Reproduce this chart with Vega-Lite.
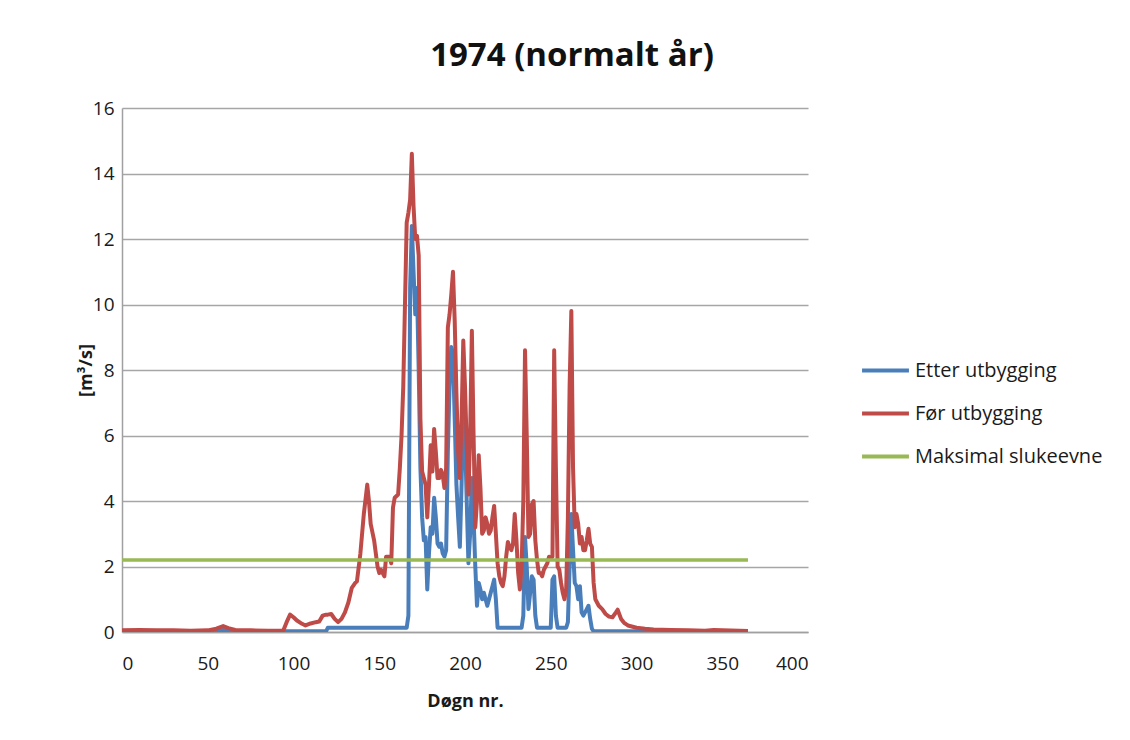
{
  "$schema": "https://vega.github.io/schema/vega-lite/v6.json",
  "autosize": {"type": "none"},
  "width": 686,
  "height": 524,
  "padding": {"left": 122, "top": 108, "right": 322, "bottom": 108},
  "background": "white",
  "title": {
    "text": "1974 (normalt år)",
    "font": "Open Sans",
    "fontSize": 33,
    "fontWeight": "bold",
    "color": "#111111",
    "anchor": "middle",
    "dx": 107,
    "offset": 26
  },
  "data": {
    "values": [
      {"d": 0, "e": 0.02, "f": 0.05}, {"d": 10, "e": 0.02, "f": 0.06}, {"d": 20, "e": 0.02, "f": 0.05},
      {"d": 30, "e": 0.02, "f": 0.05}, {"d": 40, "e": 0.02, "f": 0.04}, {"d": 50, "e": 0.02, "f": 0.05},
      {"d": 55, "e": 0.03, "f": 0.1}, {"d": 59, "e": 0.06, "f": 0.18}, {"d": 62, "e": 0.03, "f": 0.12},
      {"d": 66, "e": 0.02, "f": 0.06}, {"d": 75, "e": 0.02, "f": 0.05}, {"d": 85, "e": 0.02, "f": 0.04},
      {"d": 94, "e": 0.02, "f": 0.04}, {"d": 96, "e": 0.02, "f": 0.3}, {"d": 98, "e": 0.02, "f": 0.53},
      {"d": 100, "e": 0.02, "f": 0.45}, {"d": 102, "e": 0.02, "f": 0.35}, {"d": 105, "e": 0.02, "f": 0.25},
      {"d": 107, "e": 0.02, "f": 0.2}, {"d": 110, "e": 0.02, "f": 0.26}, {"d": 113, "e": 0.02, "f": 0.3},
      {"d": 115, "e": 0.02, "f": 0.32}, {"d": 117, "e": 0.02, "f": 0.5}, {"d": 119, "e": 0.02, "f": 0.53},
      {"d": 120, "e": 0.13, "f": 0.53}, {"d": 122, "e": 0.13, "f": 0.55}, {"d": 124, "e": 0.13, "f": 0.4},
      {"d": 126, "e": 0.13, "f": 0.3}, {"d": 128, "e": 0.13, "f": 0.4}, {"d": 130, "e": 0.13, "f": 0.6},
      {"d": 132, "e": 0.13, "f": 0.9}, {"d": 134, "e": 0.13, "f": 1.35}, {"d": 136, "e": 0.13, "f": 1.5},
      {"d": 137, "e": 0.13, "f": 1.55}, {"d": 139, "e": 0.13, "f": 2.4}, {"d": 141, "e": 0.13, "f": 3.6},
      {"d": 143, "e": 0.13, "f": 4.5}, {"d": 144, "e": 0.13, "f": 4.0}, {"d": 145, "e": 0.13, "f": 3.3},
      {"d": 147, "e": 0.13, "f": 2.8}, {"d": 149, "e": 0.13, "f": 2.0}, {"d": 150, "e": 0.13, "f": 1.8},
      {"d": 151, "e": 0.13, "f": 1.9}, {"d": 152, "e": 0.13, "f": 1.8}, {"d": 153, "e": 0.13, "f": 1.7},
      {"d": 154, "e": 0.13, "f": 2.3}, {"d": 156, "e": 0.13, "f": 2.3}, {"d": 157, "e": 0.13, "f": 2.1},
      {"d": 158, "e": 0.13, "f": 3.8}, {"d": 159, "e": 0.13, "f": 4.1}, {"d": 161, "e": 0.13, "f": 4.2},
      {"d": 162, "e": 0.13, "f": 5.0}, {"d": 163, "e": 0.13, "f": 6.0}, {"d": 164, "e": 0.13, "f": 7.5},
      {"d": 165, "e": 0.13, "f": 10.0}, {"d": 166, "e": 0.13, "f": 12.5}, {"d": 167, "e": 0.5, "f": 12.8},
      {"d": 168, "e": 10.5, "f": 13.2}, {"d": 169, "e": 12.4, "f": 14.6}, {"d": 170, "e": 11.0, "f": 13.0},
      {"d": 171, "e": 9.7, "f": 12.0}, {"d": 172, "e": 10.5, "f": 12.1}, {"d": 173, "e": 8.0, "f": 11.5},
      {"d": 174, "e": 5.0, "f": 6.5}, {"d": 175, "e": 3.5, "f": 4.9}, {"d": 176, "e": 2.8, "f": 4.7},
      {"d": 177, "e": 2.9, "f": 4.5}, {"d": 178, "e": 1.3, "f": 3.5}, {"d": 179, "e": 2.4, "f": 4.5},
      {"d": 180, "e": 3.2, "f": 5.7}, {"d": 181, "e": 3.0, "f": 4.9}, {"d": 182, "e": 4.1, "f": 6.2},
      {"d": 183, "e": 3.5, "f": 5.5}, {"d": 184, "e": 2.7, "f": 4.7}, {"d": 185, "e": 2.6, "f": 4.7},
      {"d": 186, "e": 2.7, "f": 4.95}, {"d": 187, "e": 2.4, "f": 4.8}, {"d": 188, "e": 2.3, "f": 4.4},
      {"d": 189, "e": 2.5, "f": 5.0}, {"d": 190, "e": 5.5, "f": 9.3}, {"d": 191, "e": 7.5, "f": 9.7},
      {"d": 192, "e": 8.7, "f": 10.3}, {"d": 193, "e": 8.5, "f": 11.0}, {"d": 194, "e": 6.5, "f": 9.5},
      {"d": 195, "e": 4.5, "f": 7.3}, {"d": 196, "e": 3.5, "f": 5.5}, {"d": 197, "e": 2.6, "f": 4.7},
      {"d": 198, "e": 4.5, "f": 6.5}, {"d": 199, "e": 7.0, "f": 8.9}, {"d": 200, "e": 6.0, "f": 7.5},
      {"d": 201, "e": 4.0, "f": 5.7}, {"d": 202, "e": 2.1, "f": 4.2}, {"d": 203, "e": 3.0, "f": 6.0},
      {"d": 204, "e": 4.7, "f": 9.2}, {"d": 205, "e": 3.5, "f": 6.0}, {"d": 206, "e": 2.0, "f": 3.2},
      {"d": 207, "e": 0.8, "f": 4.0}, {"d": 208, "e": 1.5, "f": 5.4}, {"d": 209, "e": 1.3, "f": 4.4},
      {"d": 210, "e": 1.0, "f": 3.0}, {"d": 211, "e": 1.2, "f": 3.1}, {"d": 212, "e": 1.0, "f": 3.5},
      {"d": 213, "e": 0.8, "f": 3.3}, {"d": 214, "e": 1.0, "f": 3.0}, {"d": 215, "e": 1.2, "f": 3.1},
      {"d": 216, "e": 1.4, "f": 3.5}, {"d": 217, "e": 1.6, "f": 3.85}, {"d": 218, "e": 1.0, "f": 3.0},
      {"d": 219, "e": 0.13, "f": 2.1}, {"d": 220, "e": 0.13, "f": 1.7}, {"d": 221, "e": 0.13, "f": 1.5},
      {"d": 222, "e": 0.13, "f": 1.4}, {"d": 223, "e": 0.13, "f": 1.7}, {"d": 224, "e": 0.13, "f": 2.3},
      {"d": 225, "e": 0.13, "f": 2.75}, {"d": 226, "e": 0.13, "f": 2.6}, {"d": 227, "e": 0.13, "f": 2.5},
      {"d": 228, "e": 0.13, "f": 2.7}, {"d": 229, "e": 0.13, "f": 3.6}, {"d": 230, "e": 0.13, "f": 2.8},
      {"d": 231, "e": 0.13, "f": 1.8}, {"d": 232, "e": 0.13, "f": 1.3}, {"d": 233, "e": 0.13, "f": 2.0},
      {"d": 234, "e": 0.5, "f": 4.0}, {"d": 235, "e": 2.9, "f": 8.6}, {"d": 236, "e": 2.0, "f": 6.0},
      {"d": 237, "e": 0.7, "f": 2.9}, {"d": 238, "e": 1.2, "f": 3.0}, {"d": 239, "e": 1.7, "f": 3.9},
      {"d": 240, "e": 1.6, "f": 4.0}, {"d": 241, "e": 0.5, "f": 2.8}, {"d": 242, "e": 0.13, "f": 2.2},
      {"d": 243, "e": 0.13, "f": 1.8}, {"d": 244, "e": 0.13, "f": 1.8}, {"d": 245, "e": 0.13, "f": 1.7},
      {"d": 246, "e": 0.13, "f": 1.9}, {"d": 247, "e": 0.13, "f": 2.0}, {"d": 248, "e": 0.13, "f": 2.1},
      {"d": 249, "e": 0.13, "f": 2.3}, {"d": 250, "e": 0.13, "f": 2.25}, {"d": 251, "e": 1.6, "f": 2.3},
      {"d": 252, "e": 1.7, "f": 8.6}, {"d": 253, "e": 0.5, "f": 5.0}, {"d": 254, "e": 0.13, "f": 2.0},
      {"d": 255, "e": 0.13, "f": 1.9}, {"d": 256, "e": 0.13, "f": 1.5}, {"d": 257, "e": 0.13, "f": 1.2},
      {"d": 258, "e": 0.13, "f": 1.0}, {"d": 259, "e": 0.13, "f": 1.3}, {"d": 260, "e": 0.3, "f": 3.5},
      {"d": 261, "e": 2.0, "f": 7.5}, {"d": 262, "e": 3.6, "f": 9.8}, {"d": 263, "e": 2.5, "f": 5.0},
      {"d": 264, "e": 1.5, "f": 3.2}, {"d": 265, "e": 1.4, "f": 3.6}, {"d": 266, "e": 1.0, "f": 3.3},
      {"d": 267, "e": 1.4, "f": 2.7}, {"d": 268, "e": 0.6, "f": 2.9}, {"d": 269, "e": 0.5, "f": 2.5},
      {"d": 270, "e": 0.6, "f": 2.5}, {"d": 271, "e": 0.7, "f": 2.8}, {"d": 272, "e": 0.8, "f": 3.15},
      {"d": 273, "e": 0.4, "f": 2.7}, {"d": 274, "e": 0.1, "f": 2.6}, {"d": 275, "e": 0.02, "f": 1.5},
      {"d": 276, "e": 0.02, "f": 1.0}, {"d": 278, "e": 0.02, "f": 0.8}, {"d": 280, "e": 0.02, "f": 0.7},
      {"d": 282, "e": 0.02, "f": 0.55}, {"d": 284, "e": 0.02, "f": 0.47}, {"d": 286, "e": 0.02, "f": 0.45},
      {"d": 288, "e": 0.02, "f": 0.6}, {"d": 289, "e": 0.02, "f": 0.68}, {"d": 291, "e": 0.02, "f": 0.4},
      {"d": 293, "e": 0.02, "f": 0.27}, {"d": 295, "e": 0.02, "f": 0.2}, {"d": 300, "e": 0.02, "f": 0.13},
      {"d": 305, "e": 0.02, "f": 0.1}, {"d": 310, "e": 0.02, "f": 0.08}, {"d": 320, "e": 0.02, "f": 0.06},
      {"d": 330, "e": 0.02, "f": 0.05}, {"d": 340, "e": 0.02, "f": 0.04}, {"d": 345, "e": 0.02, "f": 0.06},
      {"d": 350, "e": 0.02, "f": 0.05}, {"d": 360, "e": 0.02, "f": 0.04}, {"d": 365, "e": 0.02, "f": 0.03}
    ]
  },
  "transform": [
    {"fold": ["e", "f"], "as": ["k", "v"]}
  ],
  "layer": [
    {
      "transform": [
        {"lookup": "k", "from": {"data": {"values": [
          {"k": "e", "series": "Etter utbygging"},
          {"k": "f", "series": "Før utbygging"}
        ]}, "key": "k", "fields": ["series"]}}
      ],
      "mark": {"type": "line", "strokeWidth": 4, "strokeJoin": "round", "clip": true},
      "encoding": {
        "x": {"field": "d", "type": "quantitative",
              "scale": {"domain": [0, 400], "nice": false},
              "axis": {"values": [0, 50, 100, 150, 200, 250, 300, 350, 400], "title": "Døgn nr.", "grid": false}},
        "y": {"field": "v", "type": "quantitative",
              "scale": {"domain": [0, 16], "nice": false},
              "axis": {"values": [0, 2, 4, 6, 8, 10, 12, 14, 16], "title": "[m³/s]", "grid": true}},
        "color": {"field": "series", "type": "nominal",
                  "scale": {"domain": ["Etter utbygging", "Før utbygging", "Maksimal slukeevne"],
                            "range": ["#4A7EBB", "#BE4B48", "#98B954"]},
                  "legend": {"title": null, "orient": "none", "legendX": 738, "legendY": 237}},
        "order": {"field": "d", "type": "quantitative"}
      }
    },
    {
      "data": {"values": [
        {"d": 0, "v": 2.2, "series": "Maksimal slukeevne"},
        {"d": 365, "v": 2.2, "series": "Maksimal slukeevne"}
      ]},
      "mark": {"type": "line", "strokeWidth": 3.5},
      "encoding": {
        "x": {"field": "d", "type": "quantitative"},
        "y": {"field": "v", "type": "quantitative"},
        "color": {"field": "series", "type": "nominal"}
      }
    }
  ],
  "config": {
    "view": {"stroke": null},
    "font": "Open Sans",
    "axis": {
      "domainColor": "#a0a0a0",
      "domainWidth": 1.5,
      "gridColor": "#a6a6a6",
      "gridWidth": 1.5,
      "ticks": false,
      "labelFont": "Open Sans",
      "labelFontSize": 19,
      "labelColor": "#1a1a1a",
      "titleFont": "Open Sans",
      "titleFontSize": 18,
      "titleFontWeight": "bold",
      "titleColor": "#1a1a1a"
    },
    "axisX": {"labelPadding": 22, "titlePadding": 19},
    "axisY": {"labelPadding": 8, "titlePadding": -3},
    "legend": {
      "labelFont": "Open Sans",
      "labelFontSize": 20,
      "labelColor": "#1a1a1a",
      "symbolType": "stroke",
      "symbolSize": 2200,
      "symbolStrokeWidth": 4,
      "rowPadding": 7,
      "labelOffset": 4,
      "labelLimit": 300
    }
  }
}
